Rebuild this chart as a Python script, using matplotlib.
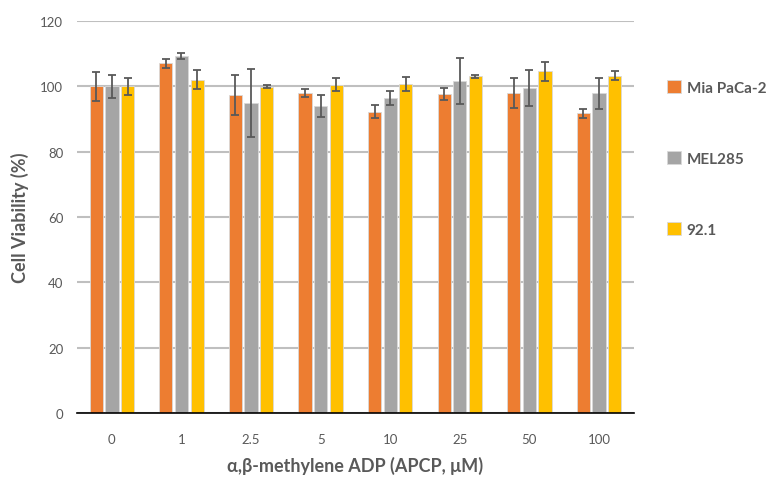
import numpy as np
import matplotlib
matplotlib.use("Agg")
import matplotlib.pyplot as plt

plt.rcParams['font.family'] = ['Lato', 'DejaVu Sans']

doses = ["0", "1", "2.5", "5", "10", "25", "50", "100"]
series = ["Mia PaCa-2", "MEL285", "92.1"]
colors = ["#ED7D31", "#A5A5A5", "#FFC000"]

mia = [100.0, 107.1, 97.4, 98.0, 92.3, 97.6, 98.0, 91.8]
mia_err = [4.5, 1.4, 6.2, 1.3, 2.0, 1.8, 4.5, 1.4]
mel = [100.0, 109.3, 94.9, 94.0, 96.4, 101.6, 99.5, 97.9]
mel_err = [3.5, 0.9, 10.4, 3.3, 2.2, 7.1, 5.4, 4.7]
y921 = [100.0, 102.1, 99.9, 100.6, 100.7, 103.1, 104.6, 103.3]
y921_err = [2.7, 2.9, 0.5, 1.9, 2.2, 0.5, 2.85, 1.4]

values = [mia, mel, y921]
errors = [mia_err, mel_err, y921_err]

text_col = "#595959"

fig = plt.figure(figsize=(7.71, 4.81), dpi=100)
ax = fig.add_axes([0.1, 0.139, 0.722, 0.815])

x = np.arange(len(doses))
step = 0.225
width = 0.19
for i, (vals, errs) in enumerate(zip(values, errors)):
    ax.bar(x + (i - 1) * step, vals, width, color=colors[i], label=series[i],
           edgecolor="#d9d9d9", linewidth=0.6, zorder=3,
           yerr=errs, error_kw=dict(ecolor="#595959", elinewidth=1.3,
                                    capsize=3, capthick=1.3, zorder=4))

ax.set_xlim(-0.5, len(doses) - 0.5)
ax.set_ylim(0, 120)
ax.set_yticks(range(0, 121, 20))
ax.set_xticks(x)
ax.set_xticklabels(doses)
ax.tick_params(axis="both", length=0, labelsize=9.5, colors=text_col, pad=10)
ax.tick_params(axis="x", pad=14)
ax.yaxis.grid(True, color="#bfbfbf", linewidth=1.5, zorder=0)
for s in ["top", "right", "left"]:
    ax.spines[s].set_visible(False)
ax.spines["bottom"].set_color("black")
ax.spines["bottom"].set_linewidth(1.2)
ax.spines["bottom"].set_zorder(5)

ax.set_ylabel("Cell Viability (%)", fontsize=13, fontweight="bold", color=text_col, labelpad=8)
ax.set_xlabel("α,β-methylene ADP (APCP, μM)", fontsize=13, fontweight="bold", color=text_col, labelpad=8)

leg = ax.legend(loc="upper left", bbox_to_anchor=(1.035, 0.885), frameon=False,
                fontsize=11, labelspacing=3.7, handlelength=0.9, handleheight=0.9,
                handletextpad=0.4)
for t in leg.get_texts():
    t.set_color(text_col)
    t.set_fontweight("bold")

fig.savefig("out.png", dpi=100)
